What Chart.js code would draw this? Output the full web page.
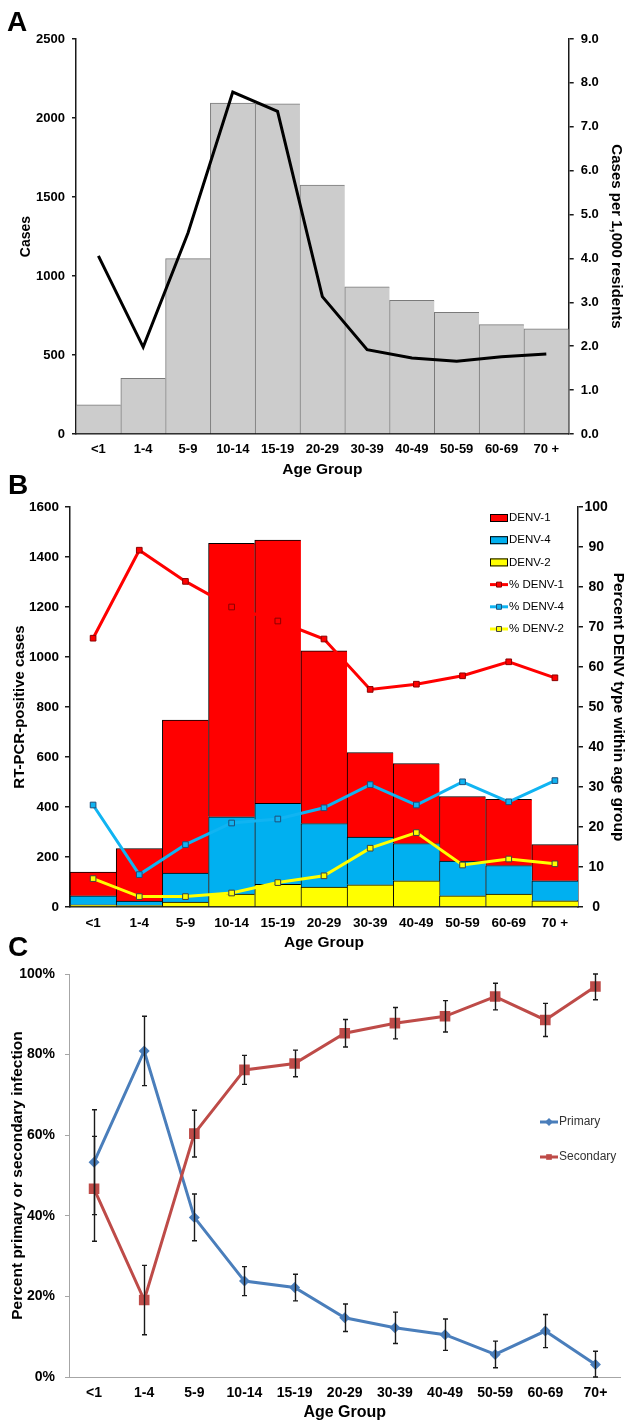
<!DOCTYPE html>
<html>
<head>
<meta charset="utf-8">
<script src="https://cdn.jsdelivr.net/npm/chart.js@4.4.1/dist/chart.umd.min.js"></script>
<style>
html,body{margin:0;padding:0;background:#fff;}
body{width:628px;height:1422px;position:relative;overflow:hidden;}
.panel{position:absolute;left:0;width:628px;}
.panel canvas{display:block;}
.letter{position:absolute;font:bold 28px/28px 'Liberation Sans',Arial,sans-serif;color:#000;}
</style>
</head>
<body>
<div class="panel" style="top:0;height:482px"><canvas id="chartA" width="628" height="482"></canvas></div>
<div class="panel" style="top:482px;height:470px"><canvas id="chartB" width="628" height="470"></canvas></div>
<div class="panel" style="top:952px;height:470px"><canvas id="chartC" width="628" height="470"></canvas></div>
<div class="letter" style="left:7px;top:8px">A</div>
<div class="letter" style="left:8px;top:471px">B</div>
<div class="letter" style="left:8px;top:933px">C</div>
<script>
// ---------- data ----------
const ageGroups = ['<1','1-4','5-9','10-14','15-19','20-29','30-39','40-49','50-59','60-69','70 +'];
const ageGroupsC = ['<1','1-4','5-9','10-14','15-19','20-29','30-39','40-49','50-59','60-69','70+'];

// Panel A
const casesA = [184, 353, 1110, 2094, 2090, 1576, 931, 846, 770, 692, 666];
const ratePer1000 = [4.06, 1.98, 4.58, 7.79, 7.35, 3.13, 1.92, 1.73, 1.66, 1.76, 1.82];

// Panel B (stacked RT-PCR-positive cases)
const denv1Cases = [95, 210, 612, 1094, 1053, 691, 338, 320, 258, 265, 145];
const denv4Cases = [36, 18, 116, 309, 324, 254, 191, 149, 139, 114, 80];
const denv2Cases = [9, 6, 20, 52, 91, 80, 89, 105, 45, 52, 25];
const pctDenv1 = [67.2, 89.2, 81.4, 75.0, 71.5, 67.0, 54.4, 55.7, 57.8, 61.3, 57.3];
const pctDenv4 = [25.5, 8.1, 15.6, 21.0, 22.0, 24.8, 30.6, 25.5, 31.3, 26.3, 31.6];
const pctDenv2 = [7.1, 2.6, 2.6, 3.5, 6.1, 7.8, 14.7, 18.6, 10.5, 12.0, 10.8];

// Panel C
const primaryPct = [53.3, 80.9, 39.6, 23.8, 22.2, 14.7, 12.2, 10.5, 5.6, 11.4, 3.1];
const secondaryPct = [46.7, 19.1, 60.4, 76.2, 77.8, 85.3, 87.8, 89.5, 94.4, 88.6, 96.9];
const infectionErr = [13.0, 8.6, 5.8, 3.6, 3.3, 3.4, 3.9, 3.9, 3.3, 4.1, 3.3];

// ---------- setup ----------
const FONT = "'Liberation Sans', Arial, Helvetica, sans-serif";
Chart.defaults.font.family = FONT;
Chart.defaults.color = '#000';
Chart.defaults.animation = false;

// legend drawn with dataset styles
const styleLegend = {
  id: 'styleLegend',
  afterDraw(chart, args, opts) {
    if (!opts || !opts.items) return;
    const ctx = chart.ctx;
    ctx.save();
    ctx.font = opts.font;
    ctx.textBaseline = 'middle';
    ctx.textAlign = 'left';
    opts.items.forEach((label, k) => {
      const ds = chart.data.datasets.find(d => d.label === label);
      if (!ds) return;
      const yy = opts.y0 + k * opts.gap;
      const x0 = opts.x0, w = opts.w;
      if (ds.type === 'line') {
        ctx.strokeStyle = ds.borderColor;
        ctx.lineWidth = ds.borderWidth;
        ctx.beginPath();
        ctx.moveTo(x0, yy);
        ctx.lineTo(x0 + w, yy);
        ctx.stroke();
        ctx.fillStyle = ds.pointBackgroundColor || ds.borderColor;
        ctx.strokeStyle = ds.pointBorderColor || ds.borderColor;
        ctx.lineWidth = ds.pointBorderWidth || 1;
        Chart.helpers.drawPoint(ctx, {pointStyle: ds.pointStyle, radius: opts.markerRadius, rotation: 0, borderWidth: ds.pointBorderWidth || 0}, x0 + w / 2, yy);
      } else {
        ctx.fillStyle = ds.backgroundColor;
        ctx.fillRect(x0, yy - opts.boxH / 2, w, opts.boxH);
        ctx.strokeStyle = '#000';
        ctx.lineWidth = 1;
        ctx.strokeRect(x0 + 0.5, yy - opts.boxH / 2 + 0.5, w - 1, opts.boxH - 1);
      }
      ctx.fillStyle = opts.color;
      ctx.fillText(label, x0 + w + opts.textGap, yy);
    });
    ctx.restore();
  }
};

// error bars drawn through the y scale
const errorBars = {
  id: 'errorBars',
  afterDatasetsDraw(chart, args, opts) {
    const ctx = chart.ctx;
    const ys = chart.scales.y;
    ctx.save();
    ctx.strokeStyle = opts.color;
    ctx.lineWidth = opts.width;
    chart.data.datasets.forEach((ds, i) => {
      if (!ds.errors) return;
      const meta = chart.getDatasetMeta(i);
      meta.data.forEach((pt, j) => {
        const v = ds.data[j], e = ds.errors[j];
        const hi = Math.min(ys.max, v + e), lo = Math.max(ys.min, v - e);
        const yt = ys.getPixelForValue(hi), yb = ys.getPixelForValue(lo);
        const px = Math.round(pt.x) + 0.5;
        ctx.beginPath();
        ctx.moveTo(px, yt); ctx.lineTo(px, yb);
        ctx.moveTo(px - opts.cap, yt); ctx.lineTo(px + opts.cap, yt);
        ctx.moveTo(px - opts.cap, yb); ctx.lineTo(px + opts.cap, yb);
        ctx.stroke();
      });
    });
    ctx.restore();
  }
};

const AX = '#1a1a1a';
const plainNum = v => String(v);
function yAxis(pos, min, max, step, width, fontSize, pad, tickLen, color, bw, extra) {
  return Object.assign({
    position: pos, min: min, max: max,
    ticks: {stepSize: step, padding: pad, color: '#000', font: {size: fontSize, weight: 'bold'}, callback: plainNum},
    grid: {drawOnChartArea: false, drawTicks: true, tickLength: tickLen, color: color, lineWidth: bw},
    border: {display: true, color: color, width: bw},
    afterFit(s) { s.width = width; }
  }, extra || {});
}
function xAxis(labels, height, fontSize, pad, color, bw, titleSize, titlePadBottom) {
  return {
    type: 'category', labels: labels, offset: true,
    grid: {display: false, drawTicks: false},
    border: {display: true, color: color, width: bw},
    ticks: {autoSkip: false, maxRotation: 0, minRotation: 0, padding: pad, color: '#000', font: {size: fontSize, weight: 'bold'}},
    title: {display: true, text: 'Age Group', color: '#000', font: {size: titleSize, weight: 'bold'}, padding: {top: 0, bottom: titlePadBottom}},
    afterFit(s) { s.height = height; }
  };
}

// ---------- Panel A ----------
const scalesA = {
  x: xAxis(ageGroups, 48, 13, 8, AX, 1.5, 15.5, 2.7),
  y: yAxis('left', 0, 2500, 500, 76, 13, 7, 4, AX, 1.5, {
    title: {display: true, text: 'Cases', color: '#000', font: {size: 14, weight: 'bold'}, padding: {top: 17.6, bottom: 0}}
  }),
  y1: yAxis('right', 0, 9, 1, 59.3, 13, 7, 5, AX, 1.5, {
    title: {display: true, text: 'Cases per 1,000 residents', color: '#000', font: {size: 15, weight: 'bold'}, padding: {top: 3, bottom: 0}}
  })
};
scalesA.y1.ticks.callback = v => Number(v).toFixed(1);
new Chart(document.getElementById('chartA'), {
  type: 'bar',
  data: {
    labels: ageGroups,
    datasets: [
      {type: 'line', label: 'Cases per 1,000 residents', data: ratePer1000, yAxisID: 'y1',
       borderColor: '#000', borderWidth: 3, pointRadius: 0, tension: 0, order: 0},
      {type: 'bar', label: 'Cases', data: casesA, yAxisID: 'y',
       backgroundColor: '#cccccc', borderColor: '#7a7a7a',
       borderWidth: {top: 1, left: 1, right: 0, bottom: 0}, borderSkipped: false,
       barPercentage: 1, categoryPercentage: 1, order: 1}
    ]
  },
  options: {
    responsive: false, animation: false, devicePixelRatio: 1,
    layout: {padding: {top: 39, left: 0, right: 0, bottom: 0}},
    plugins: {legend: {display: false}, tooltip: {enabled: false}},
    scales: scalesA
  }
});

// ---------- Panel B ----------
const barStyle = {type: 'bar', yAxisID: 'y', borderColor: '#000',
  borderWidth: {top: 1, left: 1, right: 0, bottom: 0}, borderSkipped: false,
  barPercentage: 1, categoryPercentage: 1, order: 2};
const lineStyle = {type: 'line', yAxisID: 'y1', borderWidth: 3, tension: 0,
  pointStyle: 'rect', pointRadius: 4, pointBorderWidth: 1, pointBorderColor: '#333', order: 1};
const scalesB = {
  x: Object.assign(xAxis(ageGroups, 45, 13.5, 8, AX, 1.5, 15.5, 0), {stacked: true}),
  y: yAxis('left', 0, 1600, 200, 70, 13.5, 6, 5, AX, 1.5, {
    stacked: true,
    title: {display: true, text: 'RT-PCR-positive cases', color: '#000', font: {size: 15, weight: 'bold'}, padding: {top: 11, bottom: 0}}
  }),
  y1: yAxis('right', 0, 100, 10, 50, 14, 1.5, 5, AX, 1.5, {
    title: {display: true, text: 'Percent DENV type within age group', color: '#000', font: {size: 15.5, weight: 'bold'}, padding: {top: 0, bottom: 0}}
  })
};
scalesB.y1.ticks.crossAlign = 'center';
new Chart(document.getElementById('chartB'), {
  type: 'bar',
  data: {
    labels: ageGroups,
    datasets: [
      Object.assign({}, barStyle, {label: 'DENV-2', data: denv2Cases, backgroundColor: '#ffff00'}),
      Object.assign({}, barStyle, {label: 'DENV-4', data: denv4Cases, backgroundColor: '#00b0f0'}),
      Object.assign({}, barStyle, {label: 'DENV-1', data: denv1Cases, backgroundColor: '#ff0000'}),
      Object.assign({}, lineStyle, {label: '% DENV-1', data: pctDenv1, borderColor: '#ff0000', pointBackgroundColor: '#ff0000', pointBorderColor: '#8b0000'}),
      Object.assign({}, lineStyle, {label: '% DENV-4', data: pctDenv4, borderColor: '#10b4f2', pointBackgroundColor: '#10b4f2', pointBorderColor: '#1f4e79'}),
      Object.assign({}, lineStyle, {label: '% DENV-2', data: pctDenv2, borderColor: '#ffff00', pointBackgroundColor: '#ffff00', pointBorderColor: '#404040'})
    ]
  },
  options: {
    responsive: false, animation: false, devicePixelRatio: 1,
    layout: {padding: {top: 25, left: 0, right: 0, bottom: 0}},
    plugins: {
      legend: {display: false}, tooltip: {enabled: false},
      styleLegend: {items: ['DENV-1','DENV-4','DENV-2','% DENV-1','% DENV-4','% DENV-2'],
        x0: 490, w: 18, y0: 36, gap: 22.2, boxH: 8, markerRadius: 3.5, textGap: 1,
        font: "11.5px " + FONT, color: '#000'}
    },
    scales: scalesB
  },
  plugins: [styleLegend]
});

// ---------- Panel C ----------
new Chart(document.getElementById('chartC'), {
  type: 'line',
  data: {
    labels: ageGroupsC,
    datasets: [
      {type: 'line', label: 'Primary', data: primaryPct, errors: infectionErr,
       borderColor: '#4a7ebb', backgroundColor: '#4a7ebb', borderWidth: 3, tension: 0,
       pointStyle: 'rectRot', pointRadius: 5.5, pointBackgroundColor: '#4a7ebb', pointBorderColor: '#4a7ebb', pointBorderWidth: 0, order: 1},
      {type: 'line', label: 'Secondary', data: secondaryPct, errors: infectionErr,
       borderColor: '#be4b48', backgroundColor: '#be4b48', borderWidth: 3, tension: 0,
       pointStyle: 'rect', pointRadius: 7.5, pointBackgroundColor: '#be4b48', pointBorderColor: '#be4b48', pointBorderWidth: 0, order: 0}
    ]
  },
  options: {
    responsive: false, animation: false, devicePixelRatio: 1,
    layout: {padding: {top: 22, left: 0, right: 6, bottom: 0}},
    plugins: {
      legend: {display: false}, tooltip: {enabled: false},
      styleLegend: {items: ['Primary','Secondary'], x0: 540, w: 18, y0: 170, gap: 35, boxH: 7,
        markerRadius: 4, textGap: 1, font: "12px " + FONT, color: '#333'},
      errorBars: {color: '#1a1a1a', width: 1.4, cap: 2.5}
    },
    scales: {
      x: xAxis(ageGroupsC, 45, 14, 8, '#a6a6a6', 1, 16, 0),
      y: yAxis('left', 0, 100, 20, 69, 14, 10, 4, '#a6a6a6', 1, {
        ticks: {stepSize: 20, padding: 10, color: '#000', font: {size: 14, weight: 'bold'}, callback: v => v + '%'},
        title: {display: true, text: 'Percent primary or secondary infection', color: '#000', font: {size: 15.5, weight: 'bold'}, padding: {top: 8.7, bottom: 0}}
      })
    }
  },
  plugins: [styleLegend, errorBars]
});
</script>
</body>
</html>
